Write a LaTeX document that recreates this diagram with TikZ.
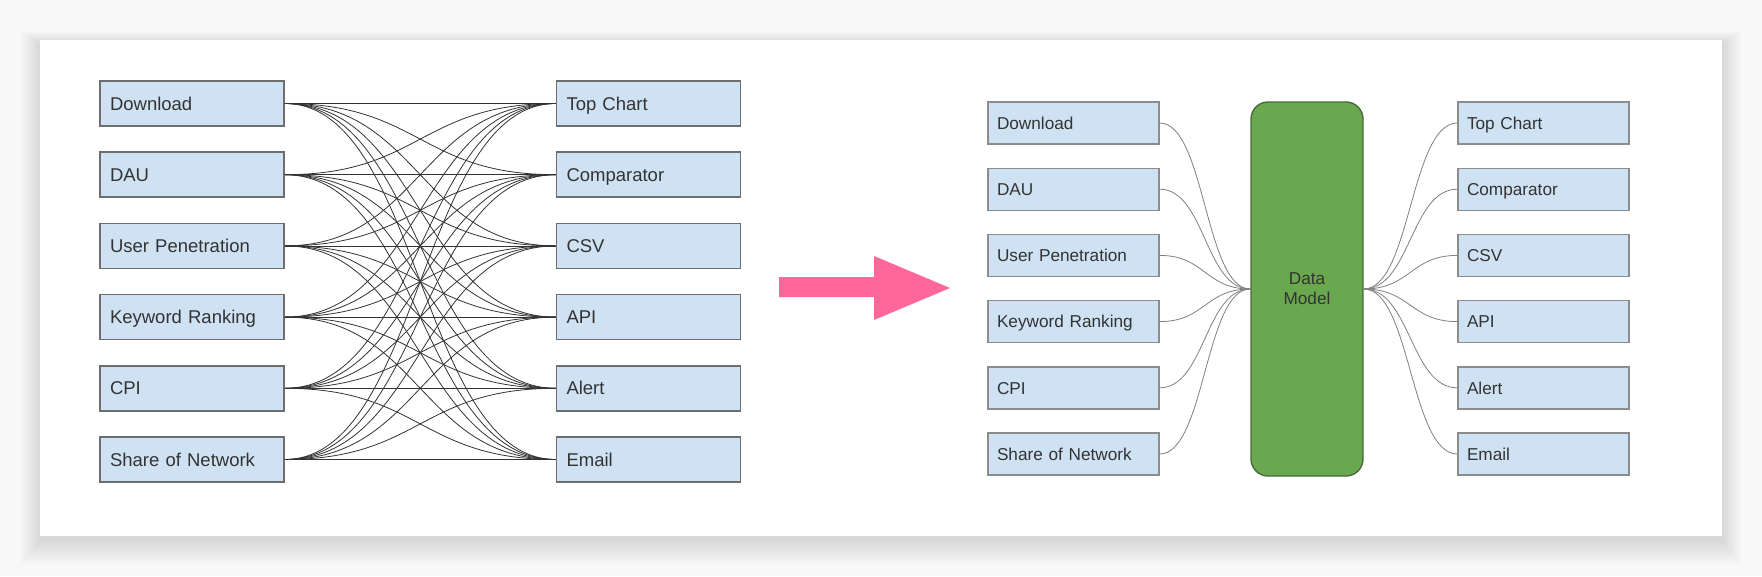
\documentclass[tikz,border=0pt]{standalone}
\usepackage{fontspec}
\setmainfont{Liberation Sans}
\usetikzlibrary{calc}
\definecolor{boxfill}{HTML}{CFE2F3}
\definecolor{boxline}{HTML}{6E6E6E}
\definecolor{boxlineb}{HTML}{8C8C8C}
\definecolor{dmfill}{HTML}{6AA84F}
\definecolor{dmline}{HTML}{4A6B3E}
\definecolor{arrowpink}{HTML}{FF6699}
\definecolor{txt}{HTML}{333333}
\definecolor{pagebg}{HTML}{F8F8F8}
\begin{document}
\begin{tikzpicture}[x=1pt,y=-1pt,
  bigbox/.style={draw=boxline, line width=1.6pt, fill=boxfill, text=txt,
    font=\fontsize{18.5}{22}\selectfont, text width=164pt, inner xsep=10pt,
    inner ysep=0pt, minimum height=45pt, align=left, text height=13.3pt, text depth=0pt},
  smallbox/.style={draw=boxlineb, line width=1.4pt, fill=boxfill, text=txt,
    font=\fontsize{17.2}{20}\selectfont, text width=153pt, inner xsep=9pt,
    inner ysep=0pt, minimum height=42pt, align=left, text height=12.4pt, text depth=0pt},
  hv/.style={to path={let \p1=(\tikztostart), \p2=(\tikztotarget),
    \p3=($(\tikztostart)!0.5!(\tikztotarget)$) in
    .. controls (\x3,\y1) and (\x3,\y2) .. (\tikztotarget)}},
  wireA/.style={draw=black!80, line width=0.8pt},
  wireB/.style={draw=black!50, line width=0.8pt}]
% background and card
\fill[pagebg] (0,0) rectangle (1762,576);
\useasboundingbox (0,0) rectangle (1762,576);
\foreach \i in {1,...,16}
  \fill[black, opacity=0.007] (40-\i*1.2, 44-\i*0.8) rectangle (1722+\i*1.2, 540+\i*1.5);
\fill[white] (40,40) rectangle (1722,536);

% ---------- left diagram ----------
\foreach \t [count=\i] in {Download,DAU,User Penetration,Keyword Ranking,CPI,Share of Network}
  \node[bigbox] (L\i) at (192, {103.5+71.2*(\i-1)}) {\t};
\foreach \t [count=\i] in {Top Chart,Comparator,CSV,API,Alert,Email}
  \node[bigbox] (R\i) at (648.5, {103.5+71.2*(\i-1)}) {\t};
\foreach \i in {1,...,6}
  \foreach \j in {1,...,6}
    \draw[wireA] (L\i.east) to[hv] (R\j.west);

% ---------- arrow ----------
\fill[arrowpink] (779,277) -- (874,277) -- (874,256) -- (950,288) -- (874,320) -- (874,297) -- (779,297) -- cycle;

% ---------- right diagram ----------
\node[draw=dmline, line width=1.4pt, fill=dmfill, rounded corners=17pt,
  minimum width=112pt, minimum height=374pt, inner sep=0pt, align=center,
  text=txt, font=\fontsize{17.2}{20}\selectfont] (DM) at (1307,289) {Data\\Model};
\foreach \t [count=\i] in {Download,DAU,User Penetration,Keyword Ranking,CPI,Share of Network}
  \node[smallbox] (A\i) at (1073.5, {123+66.2*(\i-1)}) {\t};
\foreach \t [count=\i] in {Top Chart,Comparator,CSV,API,Alert,Email}
  \node[smallbox] (B\i) at (1543.5, {123+66.2*(\i-1)}) {\t};
\foreach \i in {1,...,6} {
  \draw[wireB] (A\i.east) to[hv] (DM.west);
  \draw[wireB] (DM.east) to[hv] (B\i.west);
}
\end{tikzpicture}
\end{document}
